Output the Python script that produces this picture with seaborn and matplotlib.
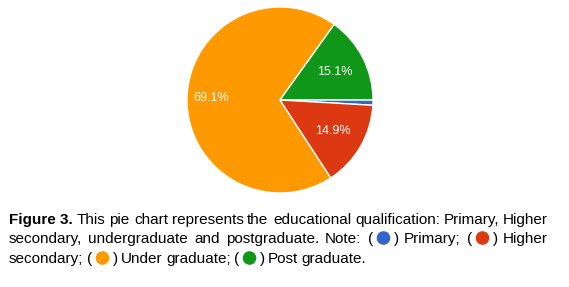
import matplotlib
matplotlib.use("Agg")
import matplotlib.pyplot as plt
import seaborn as sns
import numpy as np
from matplotlib.patches import Circle
from matplotlib.transforms import IdentityTransform

# ---- data ----
categories = ["Primary", "Higher secondary", "Under graduate", "Post graduate"]
values = [0.9, 14.9, 69.1, 15.1]
colors = ["#3366CC", "#DC3912", "#FF9900", "#109618"]
draw_order = [2, 3, 0, 1]  # clockwise order in the pie

sns.set_theme(style="white")
plt.rcParams['font.family'] = ['Liberation Sans', 'DejaVu Sans']

W, H = 569, 287
fig = plt.figure(figsize=(W / 100, H / 100), dpi=100)
fig.patch.set_facecolor('white')

# ---- pie ----
cx, cy, r = 280, 100, 93
ax = fig.add_axes([(cx - r) / W, (H - cy - r) / H, 2 * r / W, 2 * r / H])
vals = [values[i] for i in draw_order]
cols = [colors[i] for i in draw_order]
wedges, texts, autotexts = ax.pie(
    vals, colors=cols, startangle=-56.9, counterclock=False,
    autopct=lambda p: f"{p:.1f}%" if p > 5 else "",
    pctdistance=0.66,
    wedgeprops=dict(edgecolor='white', linewidth=1),
    textprops=dict(color='white', fontsize=9))
ax.set_xlim(-1, 1)
ax.set_ylim(-1, 1)
ax.set_aspect('equal')
ax.axis('off')
w0 = wedges[0]
mid = np.deg2rad((w0.theta1 + w0.theta2) / 2)
autotexts[0].set_position((0.74 * np.cos(mid), 0.74 * np.sin(mid)))

# ---- caption ----
FS = 11
TXT = '#000000'
renderer = fig.canvas.get_renderer()


def measure(s, weight='normal'):
    t = fig.text(0, 0, s, fontsize=FS, weight=weight)
    bb = t.get_window_extent(renderer)
    t.remove()
    return bb.width


DR = 6.8
DOTW = 30


def tok_width(tok):
    if tok[0] == 'dot':
        return DOTW
    return measure(tok[1], tok[2])


def draw_tok(tok, x, base):
    yf = (H - base) / H
    if tok[0] == 'dot':
        fig.text(x / W, yf, "(", fontsize=FS, color=TXT, va='baseline')
        fig.add_artist(Circle((x + 15.5, H - (base - 5)), DR, color=tok[1],
                              transform=IdentityTransform(), lw=0))
        fig.text((x + 25.5) / W, yf, ")", fontsize=FS, color=TXT, va='baseline')
    else:
        fig.text(x / W, yf, tok[1], fontsize=FS, weight=tok[2],
                 color=TXT, va='baseline')


def w(s, weight='normal'):
    return ('word', s, weight)


def dot(c):
    return ('dot', c)


line1 = [w("Figure 3.", 'bold'), w("This"), w("pie"), w("chart"), w("represents"),
         w("the"), w("educational"), w("qualification:"), w("Primary,"), w("Higher")]
line2 = [w("secondary,"), w("undergraduate"), w("and"), w("postgraduate."), w("Note:"),
         dot(colors[0]), w("Primary;"), dot(colors[1]), w("Higher")]
line3 = [w("secondary;"), dot(colors[2]), w("Under"), w("graduate;"),
         dot(colors[3]), w("Post"), w("graduate.")]

X0, X1 = 9, 548


def layout(tokens, base, justify, space=3.6):
    widths = [tok_width(t) for t in tokens]
    sp = (X1 - X0 - sum(widths)) / (len(tokens) - 1) if justify else space
    x = X0
    for t, wd in zip(tokens, widths):
        draw_tok(t, round(x), base)
        x += wd + sp


layout(line1, 224, True)
layout(line2, 243, True)
layout(line3, 263, False)

fig.savefig("out.png", dpi=100, facecolor='white')
